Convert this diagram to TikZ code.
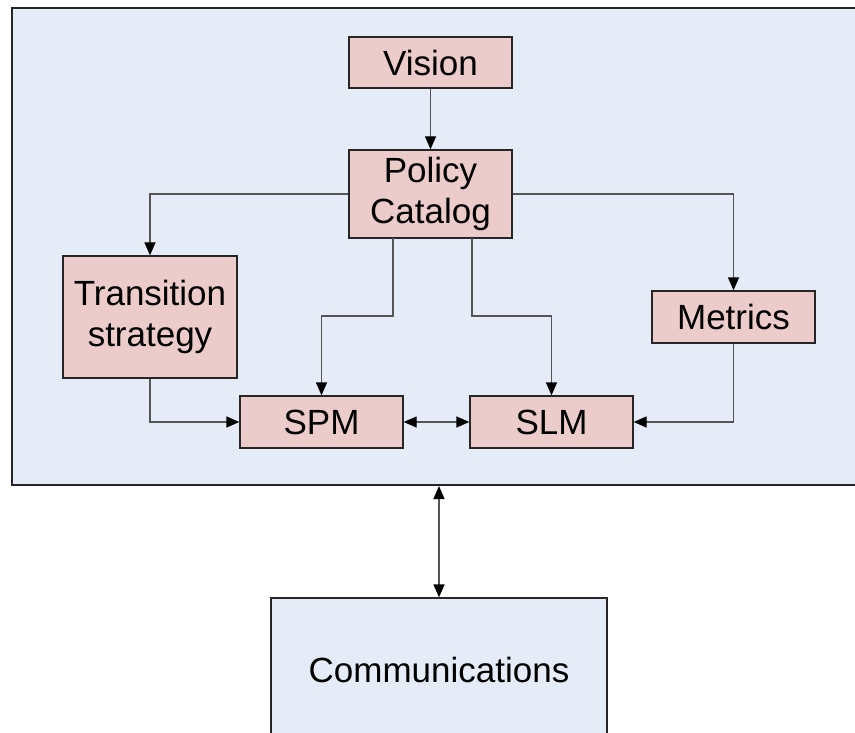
\documentclass[tikz,border=0pt]{standalone}
\usepackage{fontspec}
\setmainfont{Liberation Sans}
\usetikzlibrary{arrows.meta}
\definecolor{bgblue}{HTML}{E5ECF7}
\definecolor{boxpink}{HTML}{ECCBCB}
\definecolor{linegray}{HTML}{555555}
\begin{document}
\begin{tikzpicture}[x=1pt,y=-1pt,
  box/.style={draw=black!85, line width=1.3pt, fill=boxpink, inner sep=0pt, align=center,
    font=\fontsize{35}{41}\selectfont},
  conn/.style={draw=linegray, line width=1.3pt, -{Triangle[length=13pt,width=11pt,color=black]}},
  bconn/.style={draw=linegray, line width=1.3pt, {Triangle[length=13pt,width=11pt,color=black]}-{Triangle[length=13pt,width=11pt,color=black]}}]
\useasboundingbox (0,0) rectangle (855,733);
\fill[white] (0,0) rectangle (855,733);
% container
\node[draw=black!85, line width=2pt, fill=bgblue, minimum width=860pt, minimum height=477pt, inner sep=0pt] (frame) at (442,246.5) {};
% boxes
\node[box, minimum width=163pt, minimum height=51pt] (vision) at (430.5,62.5) {Vision};
\node[box, minimum width=163pt, minimum height=88pt] (policy) at (430.5,194) {Policy\\Catalog};
\node[box, minimum width=174pt, minimum height=122pt] (trans) at (150,317) {Transition\\strategy};
\node[box, minimum width=163pt, minimum height=52pt] (metrics) at (733.5,317) {Metrics};
\node[box, minimum width=163pt, minimum height=52pt] (spm) at (321.5,422) {SPM};
\node[box, minimum width=163pt, minimum height=52pt] (slm) at (551.5,422) {SLM};
\node[box, fill=bgblue, minimum width=336pt, minimum height=144pt] (comm) at (439,670) {Communications};
% connectors
\draw[conn] (vision.south) -- (policy.north);
\draw[conn] (policy.west) -| (trans.north);
\draw[conn] (policy.east) -| (metrics.north);
\coordinate (pl) at (393,238);
\coordinate (pr) at (472,238);
\draw[conn] (pl) -- (393,316) -| (spm.north);
\draw[conn] (pr) -- (472,316) -| (slm.north);
\draw[conn] (trans.south) |- (spm.west);
\draw[conn] (metrics.south) |- (slm.east);
\draw[bconn] (spm.east) -- (slm.west);
\draw[bconn] (frame.south -| comm.north) -- (comm.north);
\end{tikzpicture}
\end{document}
